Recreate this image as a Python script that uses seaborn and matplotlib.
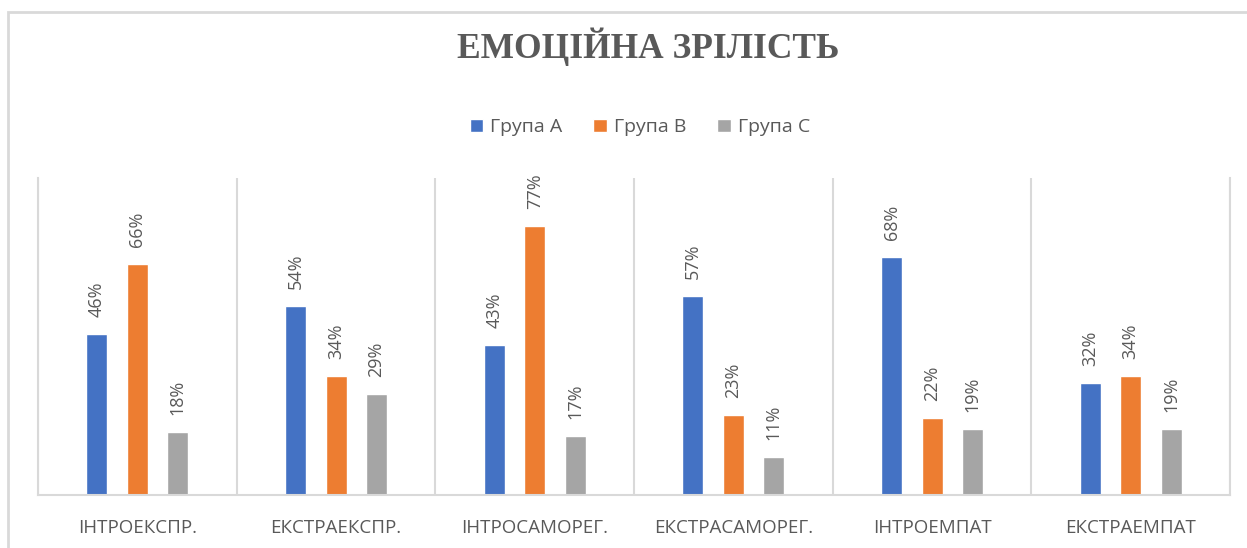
import pandas as pd
import seaborn as sns
import matplotlib.pyplot as plt
from matplotlib.patches import Rectangle
from matplotlib.ticker import FixedLocator

categories = ['ІНТРОЕКСПР.', 'ЕКСТРАЕКСПР.', 'ІНТРОСАМОРЕГ.', 'ЕКСТРАСАМОРЕГ.', 'ІНТРОЕМПАТ', 'ЕКСТРАЕМПАТ']
groups = ['Група А', 'Група В', 'Група С']
group_a = [46, 54, 43, 57, 68, 32]
group_b = [66, 34, 77, 23, 22, 34]
group_c = [18, 29, 17, 11, 19, 19]
colors = ['#4472C4', '#ED7D31', '#A5A5A5']

df = pd.DataFrame({
    'category': categories * 3,
    'group': [groups[0]] * 6 + [groups[1]] * 6 + [groups[2]] * 6,
    'value': group_a + group_b + group_c,
})

sns.set_theme(style='white')
plt.rcParams['font.family'] = ['Open Sans', 'DejaVu Sans']
text_color = '#595959'
line_color = '#D9D9D9'

fig = plt.figure(figsize=(12.47, 5.48), dpi=100)
ax = fig.add_axes([0.0305, 0.0967, 0.9559, 0.5783])

sns.barplot(data=df, x='category', y='value', hue='group', order=categories,
            hue_order=groups, palette=colors, width=0.61, gap=0.48,
            saturation=1, ax=ax, legend=True)

for cont in ax.containers:
    ax.bar_label(cont, labels=[f'{int(v)}%' for v in cont.datavalues],
                 rotation=90, padding=12, fontsize=13, color=text_color)

ax.set_xlim(-0.5, 5.5)
ax.set_ylim(0, 90.6)
ax.set_xlabel('')
ax.set_ylabel('')
ax.set_yticks([])
ax.tick_params(axis='x', length=0, pad=17, labelsize=13.5, labelcolor=text_color)
ax.xaxis.set_minor_locator(FixedLocator([-0.5, 0.5, 1.5, 2.5, 3.5, 4.5, 5.5]))
ax.grid(True, which='minor', axis='x', color=line_color, linewidth=1.5)
ax.grid(False, which='major')
for side in ['left', 'right']:
    ax.spines[side].set_color(line_color)
    ax.spines[side].set_linewidth(1.5)
ax.spines['top'].set_visible(False)
ax.spines['bottom'].set_color(line_color)
ax.spines['bottom'].set_linewidth(1.5)

ax.legend(loc='center', bbox_to_anchor=(0.513, 0.768), bbox_transform=fig.transFigure,
          ncol=3, frameon=False, fontsize=14, labelcolor=text_color,
          handlelength=0.7, handleheight=0.7, handletextpad=0.35, columnspacing=1.6)

fig.text(0.52, 0.914, 'ЕМОЦІЙНА ЗРІЛІСТЬ', ha='center', va='center',
         fontsize=25.5, fontweight='bold', color=text_color,
         family=['Liberation Serif', 'DejaVu Serif'])

# chart frame (top and left edges visible)
fig.add_artist(Rectangle((8 / 1247, -0.1), 1.2, 0.1 + (548 - 12) / 548,
                         transform=fig.transFigure, fill=False,
                         edgecolor=line_color, linewidth=2))

fig.savefig('out.png', dpi=100)
